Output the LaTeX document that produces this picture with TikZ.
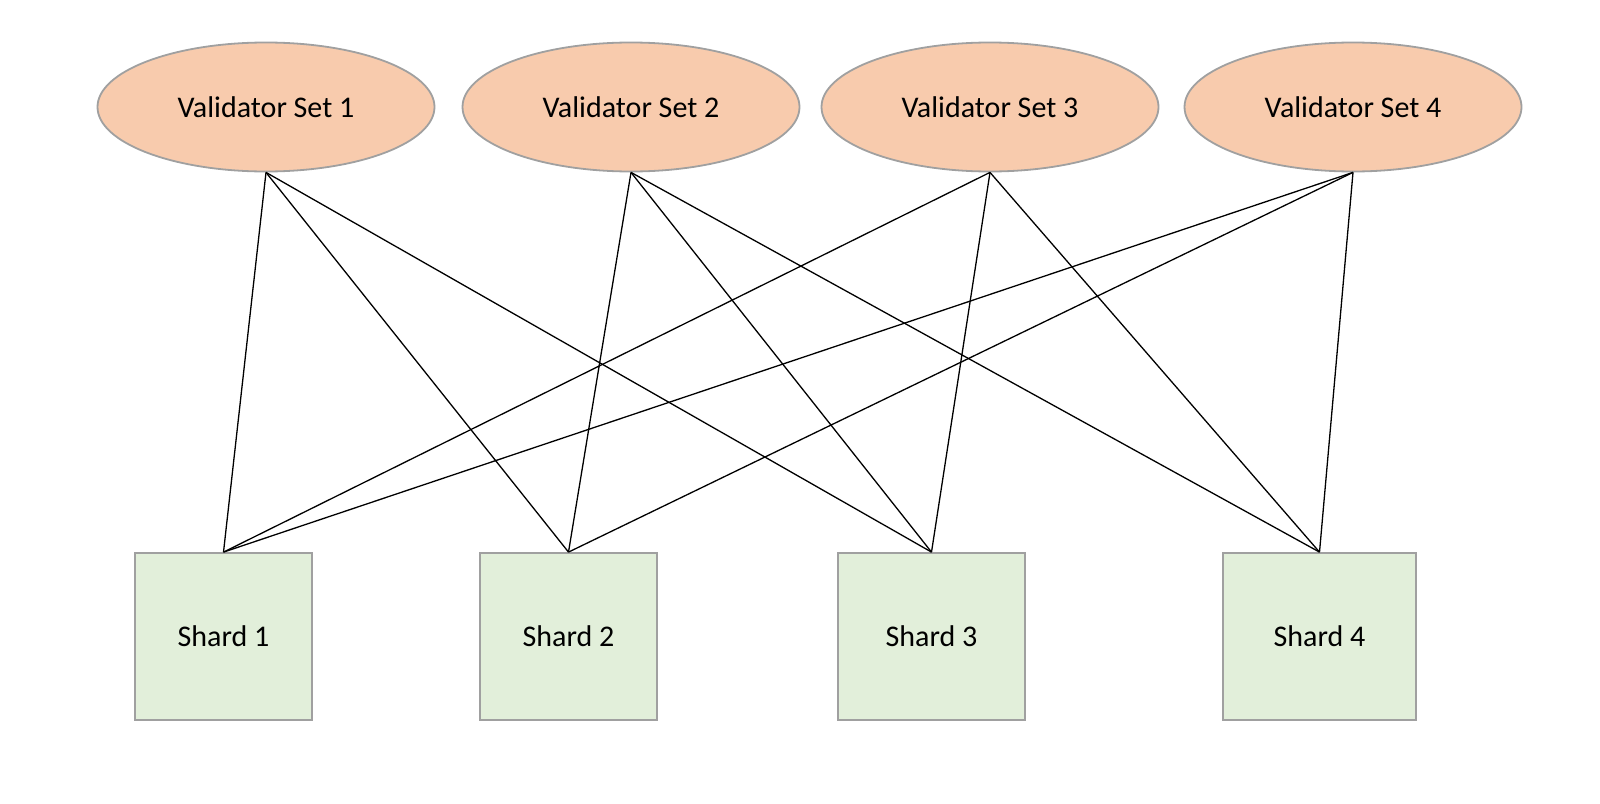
\documentclass[tikz,border=0pt]{standalone}
\usepackage{fontspec}
\setmainfont{Carlito}
\usetikzlibrary{shapes,positioning}

\definecolor{vsfill}{HTML}{F8CBAD}
\definecolor{shfill}{HTML}{E2EFDA}
\definecolor{edge}{HTML}{A0A0A0}

\begin{document}
\begin{tikzpicture}[
    x=0.5pt, y=-0.5pt,
    vset/.style={ellipse, draw=edge, line width=0.9pt, fill=vsfill, inner sep=0pt, minimum width=168.5pt, minimum height=64.5pt, font=\fontsize{15}{18}\selectfont},
    shard/.style={rectangle, draw=edge, line width=0.9pt, fill=shfill, inner sep=0pt, minimum width=88.5pt, minimum height=83.5pt, font=\fontsize{15}{18}\selectfont},
    link/.style={-, black, line width=0.65pt}
]
    \useasboundingbox (0,0) rectangle (1600,803);

    % Validator sets
    \node[vset] (vs1) at (266,107) {Validator Set 1};
    \node[vset] (vs2) at (631,107) {Validator Set 2};
    \node[vset] (vs3) at (990,107) {Validator Set 3};
    \node[vset] (vs4) at (1353,107) {Validator Set 4};

    % Shards
    \node[shard] (sh1) at (223.5,636.5) {Shard 1};
    \node[shard] (sh2) at (568.5,636.5) {Shard 2};
    \node[shard, minimum width=93.5pt] (sh3) at (931.5,636.5) {Shard 3};
    \node[shard, minimum width=96.5pt] (sh4) at (1319.5,636.5) {Shard 4};

    % Liens
    \draw[link] (vs1.south) -- (sh1.north);
    \draw[link] (vs1.south) -- (sh2.north);
    \draw[link] (vs1.south) -- (sh3.north);
    \draw[link] (vs2.south) -- (sh2.north);
    \draw[link] (vs2.south) -- (sh3.north);
    \draw[link] (vs2.south) -- (sh4.north);
    \draw[link] (vs3.south) -- (sh1.north);
    \draw[link] (vs3.south) -- (sh3.north);
    \draw[link] (vs3.south) -- (sh4.north);
    \draw[link] (vs4.south) -- (sh1.north);
    \draw[link] (vs4.south) -- (sh2.north);
    \draw[link] (vs4.south) -- (sh4.north);

\end{tikzpicture}
\end{document}
